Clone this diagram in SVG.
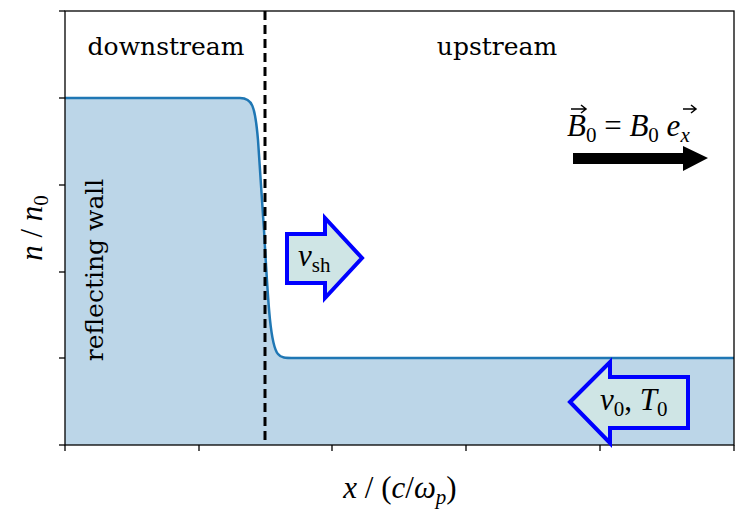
<svg xmlns="http://www.w3.org/2000/svg" width="748" height="518" viewBox="0 0 748 518">
<style>
.t{font-family:"DejaVu Serif","Liberation Serif",serif;font-size:25px;fill:#000}
.eq{font-family:"Liberation Serif","Times New Roman",serif;font-size:31px;fill:#000}
.m{font-style:italic}
.s{font-size:21px}
.tick{stroke:#000;stroke-width:1.3}
.blue{fill:#cfe5e5;stroke:#0000ff;stroke-width:4;stroke-linejoin:miter}
</style>
<rect width="748" height="518" fill="#fff"/>
<g id="density">
<path d="M65,98 L240,98 C252,98 255,105 258,140 L264,230 C268,300 270,345 278,354 C281,358 285,358 295,358 L734,358 L734,445 L65,445 Z" fill="#bcd6e8"/>
<path d="M65,98 L240,98 C252,98 255,105 258,140 L264,230 C268,300 270,345 278,354 C281,358 285,358 295,358 L734,358" fill="none" stroke="#1f77b4" stroke-width="2.5"/>
</g>
<g id="axes" fill="none">
<rect x="65" y="11" width="669" height="434" stroke="#000" stroke-width="1.3"/>
<g class="tick">
<line x1="59" y1="98" x2="65" y2="98"/><line x1="59" y1="185" x2="65" y2="185"/><line x1="59" y1="272" x2="65" y2="272"/><line x1="59" y1="358" x2="65" y2="358"/><line x1="59" y1="445" x2="65" y2="445"/><line x1="59" y1="11" x2="65" y2="11"/>
<line x1="65" y1="445" x2="65" y2="451"/><line x1="199" y1="445" x2="199" y2="451"/><line x1="332" y1="445" x2="332" y2="451"/><line x1="466" y1="445" x2="466" y2="451"/><line x1="600" y1="445" x2="600" y2="451"/><line x1="734" y1="445" x2="734" y2="451"/>
</g>
</g>
<g id="shock-line"><line x1="265" y1="11" x2="265" y2="445" stroke="#000" stroke-width="3" stroke-dasharray="9,5"/></g>
<g id="labels">
<text class="t" x="166" y="55" text-anchor="middle">downstream</text>
<text class="t" x="497" y="55" text-anchor="middle">upstream</text>
<text class="t" transform="translate(103,270) rotate(-90)" text-anchor="middle">reflecting wall</text>
<text class="eq" x="400" y="498" text-anchor="middle"><tspan class="m">x</tspan> / (<tspan class="m">c</tspan>/<tspan class="m">ω</tspan><tspan class="m s" dy="6">p</tspan><tspan dy="-6">)</tspan></text>
<text class="eq" transform="translate(42,228) rotate(-90)" text-anchor="middle"><tspan class="m">n</tspan> / <tspan class="m">n</tspan><tspan class="s" dy="6">0</tspan></text>
</g>
<g id="B0">
<text class="eq" x="567" y="136"><tspan class="m">B</tspan><tspan class="s" dy="6">0</tspan><tspan dy="-6"> = </tspan><tspan class="m">B</tspan><tspan class="s" dy="6">0</tspan><tspan class="m" dy="-6"> e</tspan><tspan class="m s" dy="6">x</tspan></text>
<path d="M571,109 L585,109 M581,105 L586,109 L581,113" fill="none" stroke="#000" stroke-width="1.5"/>
<path d="M683,109 L695,109 M691,105 L696,109 L691,113" fill="none" stroke="#000" stroke-width="1.5"/>
<polygon points="573,153 683,153 683,146 708,158 683,171 683,164 573,164" fill="#000"/>
</g>
<g id="vsh">
<polygon class="blue" points="287,234 325,234 325,218 362,258 325,298 325,283 287,283"/>
<text class="eq" x="298" y="266"><tspan class="m">v</tspan><tspan class="s" dy="6">sh</tspan></text>
</g>
<g id="v0">
<polygon class="blue" points="570,402 610,362 610,377 688,377 688,428 610,428 610,443"/>
<text class="eq" x="600" y="410"><tspan class="m">v</tspan><tspan class="s" dy="6">0</tspan><tspan dy="-6">,  </tspan><tspan class="m">T</tspan><tspan class="s" dy="6">0</tspan></text>
</g>
</svg>
